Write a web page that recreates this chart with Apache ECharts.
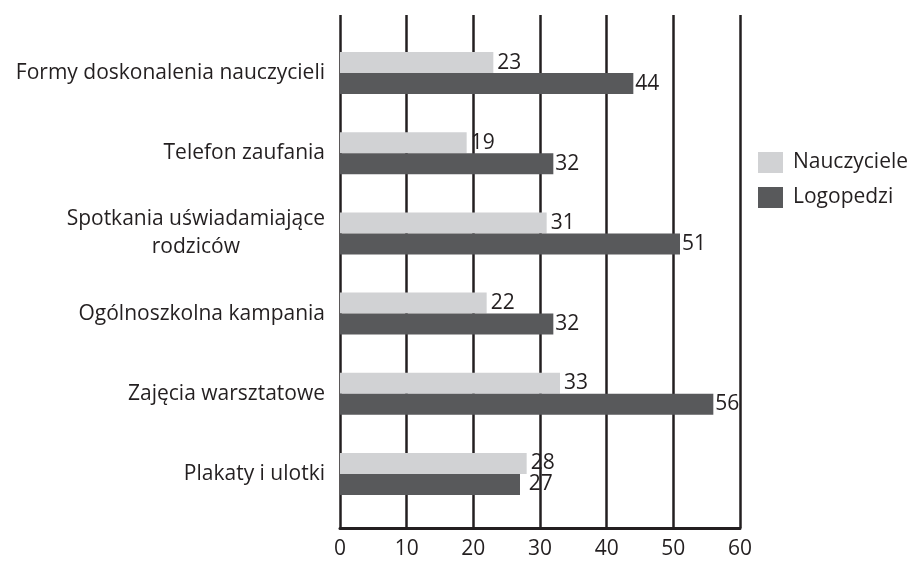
<!DOCTYPE html>
<html><head><meta charset="utf-8">
<script src="https://cdn.jsdelivr.net/npm/echarts@6/dist/echarts.min.js"></script>
<style>html,body{margin:0;padding:0;background:#fff}#c{width:910px;height:565px}</style>
</head><body><div id="c"></div>
<script>
const categories = ["Formy doskonalenia nauczycieli","Telefon zaufania","Spotkania uświadamiające\nrodziców","Ogólnoszkolna kampania","Zajęcia warsztatowe","Plakaty i ulotki"];
const nauczyciele = [23,19,31,22,33,28];
const logopedzi = [44,32,51,32,56,27];
const xTicks = [0,10,20,30,40,50,60];

const FONT = "'Open Sans', sans-serif";
const INK = '#231f20';
const pxPerUnit = 400 / 60;

const logoData = logopedzi.map((v,i) => {
  const other = nauczyciele[i];
  if (other > v && other - v < 3) {
    return {value: v, label: {offset: [(other - v) * pxPerUnit, 0]}};
  }
  return v;
});

const chart = echarts.init(document.getElementById('c'));
chart.setOption({
  animation: false,
  backgroundColor: '#fff',
  grid: [
    {left: 340, right: 170, top: 15, bottom: 37},
    {left: 340, right: 170, top: 33, height: 481}
  ],
  xAxis: [
    {gridIndex: 0, type: 'value', min: 0, max: 60, interval: 10,
     axisLine: {show: true, lineStyle: {color: INK, width: 3}},
     axisTick: {show: false},
     splitLine: {show: true, lineStyle: {color: INK, width: 2.5}},
     axisLabel: {color: INK, fontFamily: FONT, fontSize: 21, margin: 11,
       formatter: v => xTicks.includes(v) ? String(v) : ''}},
    {gridIndex: 1, type: 'value', min: 0, max: 60, interval: 10, show: false}
  ],
  yAxis: [
    {gridIndex: 0, type: 'value', min: 0, max: 1, show: false},
    {gridIndex: 1, type: 'category', data: categories, inverse: true,
     axisLine: {show: false}, axisTick: {show: false}, splitLine: {show: false},
     axisLabel: {color: INK, fontFamily: FONT, fontSize: 21, margin: 15,
       formatter: v => v.split('\n').map(s => '{a|' + s + '}').join('\n'),
       rich: {a: {align: 'center', color: INK, fontFamily: FONT, fontSize: 21, lineHeight: 28}}}}
  ],
  legend: {
    orient: 'vertical', left: 753, top: 147,
    itemWidth: 25, itemHeight: 21, itemGap: 14, icon: 'rect',
    textStyle: {color: INK, fontFamily: FONT, fontSize: 21, padding: [0,0,0,5]},
    data: ['Nauczyciele','Logopedzi']
  },
  series: [
    {name: 'Nauczyciele', type: 'bar', xAxisIndex: 1, yAxisIndex: 1, data: nauczyciele,
     barWidth: 21, barGap: '0%', itemStyle: {color: '#d1d2d4'},
     label: {show: true, position: 'right', distance: 4, color: INK, fontFamily: FONT, fontSize: 21}},
    {name: 'Logopedzi', type: 'bar', xAxisIndex: 1, yAxisIndex: 1, data: logoData,
     barWidth: 21, barGap: '0%', itemStyle: {color: '#58595b'},
     label: {show: true, position: 'right', distance: 2, color: INK, fontFamily: FONT, fontSize: 21}}
  ]
});
</script></body></html>
